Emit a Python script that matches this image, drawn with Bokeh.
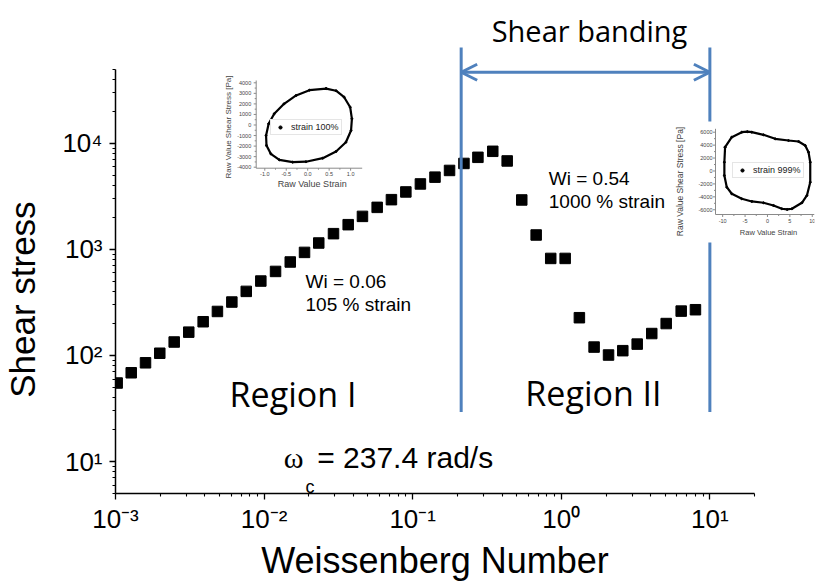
import math
from bokeh.plotting import figure
from bokeh.models import (Range1d, FixedTicker, CustomJSTickFormatter, LinearScale,
                          Label, Arrow, OpenHead, Legend, LegendItem)
from bokeh.core.properties import value
from bokeh.embed import file_html
from bokeh.resources import INLINE

# ---------------- data ----------------
wi = [0.001026, 0.001276, 0.001592, 0.001986, 0.002483, 0.003112, 0.003890, 0.004853,
      0.006067, 0.007586, 0.009506, 0.01194, 0.01500, 0.01871, 0.02333, 0.02931,
      0.03681, 0.04592, 0.05768, 0.07194, 0.08995, 0.1127, 0.1413, 0.1770, 0.2213,
      0.2748, 0.3459, 0.4325, 0.5420, 0.6776, 0.8492, 1.062, 1.324, 1.663, 2.080,
      2.594, 3.243, 4.064, 5.082, 6.412, 7.998]
shear_stress = [55, 68.7, 85.3, 105, 134, 166, 208, 260, 319, 402, 503, 620, 761, 937,
                1149, 1407, 1710, 2048, 2490, 2944, 3480, 4140, 4800, 5550, 6460, 7380,
                8410, 6820, 2925, 1367, 822, 822, 227, 120, 101, 111, 128, 161, 200, 262, 270]
x_major_ticks = [1e-3, 1e-2, 1e-1, 1e0, 1e1]
y_major_ticks = [1e1, 1e2, 1e3, 1e4]

# inset 1: strain 100 %
strain_100 = [0.43, 0.04, -0.27, -0.55, -0.78, -0.91, -0.97, -0.96, -0.86, -0.66, -0.35,
              -0.04, 0.35, 0.66, 0.89, 1.01, 1.03, 0.99, 0.85, 0.66, 0.43]
stress_100 = [3450, 3300, 2800, 2010, 1060, 114, -995, -1943, -2730, -3300, -3520,
              -3480, -3147, -2512, -1630, -521, 588, 1687, 2635, 3250, 3450]
in1_x_ticks = [-1.0, -0.5, 0.0, 0.5, 1.0]
in1_x_labels = ["-1.0", "-0.5", "0.0", "0.5", "1.0"]
in1_x_minor = [-0.75, -0.25, 0.25, 0.75]
in1_y_ticks = [-4000, -3000, -2000, -1000, 0, 1000, 2000, 3000, 4000]
in1_y_labels = ["-4000", "-3000", "-2000", "-1000", "0", "1000", "2000", "3000", "4000"]
in1_y_minor = [-3500, -2500, -1500, -500, 500, 1500, 2500, 3500]

# inset 2: strain 999 %
strain_999 = [-9.46, -7.97, -5.73, -4.5, -3.49, -0.89, 1.72, 4.70, 6.94, 8.43, 9.17, 9.55,
              9.55, 8.81, 7.69, 5.46, 4.4, 3.22, 1.34, -0.89, -3.49, -5.73, -7.97, -9.08,
              -9.62, -9.62, -9.46]
stress_999 = [3680, 5225, 6000, 6080, 6000, 5595, 4977, 4714, 4560, 3941, 2906, 1360,
              -1731, -3787, -4915, -5842, -5950, -5842, -5332, -4915, -4714, -4297, -3524,
              -2504, -696, 1360, 3680]
in2_x_ticks = [-10, -5, 0, 5, 10]
in2_x_labels = ["-10", "-5", "0", "5", "10"]
in2_x_minor = [-7.5, -2.5, 2.5, 7.5]
in2_y_ticks = [-6000, -4000, -2000, 0, 2000, 4000, 6000]
in2_y_labels = ["-6000", "-4000", "-2000", "0", "2000", "4000", "6000"]
in2_y_minor = [-5000, -3000, -1000, 1000, 3000, 5000]

BLUE = "#4F81BD"
SANS = "Liberation Sans"
AXG = "#8a8a8a"
TXG = "#444444"
NB = "\u00a0"

# main frame in canvas pixels (layout); the frame reaches the top so that the
# texts above the axes are drawn inside it, the axes are limited with bounds
W, H = 816, 584
F_L, F_R, F_T, F_B = 115, 814, 8, 493

# ---------------- main figure ----------------
p = figure(width=W, height=H, x_axis_type="log", y_axis_type="log",
           x_range=Range1d(1e-3, 50.6), y_range=Range1d(5, 1.866e5),
           output_backend="svg", toolbar_location=None,
           min_border_left=F_L, min_border_right=W - F_R, min_border_top=F_T,
           min_border_bottom=H - F_B)
p.outline_line_color = None
p.grid.visible = False
p.background_fill_color = "white"
p.border_fill_color = "white"

minor_x = [m * 10.0 ** e for e in range(-3, 2) for m in range(2, 10) if m * 10.0 ** e <= 20]
minor_y = [m * 10.0 ** e for e in range(0, 5) for m in range(2, 10) if m * 10.0 ** e <= 5e4]
p.xaxis.ticker = FixedTicker(ticks=x_major_ticks, minor_ticks=minor_x)
p.yaxis.ticker = FixedTicker(ticks=y_major_ticks, minor_ticks=minor_y)
p.xaxis.bounds = (1e-3, 20)
p.yaxis.bounds = (5, 5e4)

fmt = CustomJSTickFormatter(code="""
const sup = {"-": "\u207b", "0": "\u2070", "1": "\u00b9", "2": "\u00b2", "3": "\u00b3",
             "4": "\u2074", "5": "\u2075", "6": "\u2076", "7": "\u2077", "8": "\u2078", "9": "\u2079"};
const e = Math.round(Math.log10(tick));
return "10" + String(e).split("").map(c => sup[c]).join("");
""")

for ax in (p.xaxis[0], p.yaxis[0]):
    ax.formatter = fmt
    ax.major_label_text_font = SANS
    ax.major_label_text_font_size = "26px"
    ax.major_label_text_color = "black"
    ax.axis_label_text_font = SANS
    ax.axis_label_text_font_style = "normal"
    ax.axis_label_text_color = "black"
    ax.axis_line_width = 1.5
    ax.axis_line_color = "black"
    ax.major_tick_line_color = "black"
    ax.minor_tick_line_color = "black"
    ax.major_tick_line_width = 1.3
    ax.minor_tick_line_width = 1.1
    ax.major_tick_in = 0
    ax.major_tick_out = 6
    ax.minor_tick_in = 0
    ax.minor_tick_out = 3
p.xaxis.major_label_standoff = 4
p.yaxis.major_label_standoff = 7
# axis titles are centred on the frame; trailing no-break spaces move them
# to where the reference has them
p.xaxis.axis_label = "Weissenberg Number" + NB * 6
p.xaxis.axis_label_text_font_size = "36px"
p.xaxis.axis_label_standoff = 3
p.yaxis.axis_label = "Shear stress" + NB * 10
p.yaxis.axis_label_text_font_size = "35px"
p.yaxis.axis_label_standoff = 17

p.scatter(wi, shear_stress, marker="square", size=10.5, fill_color="black", line_color="black")

# shear banding region markers
p.add_layout(Arrow(end=None, x_start=0.212, y_start=29.4, x_end=0.212, y_end=80000,
                   line_color=BLUE, line_width=3))
p.add_layout(Arrow(end=None, x_start=10, y_start=16020, x_end=10, y_end=80000,
                   line_color=BLUE, line_width=3))
p.add_layout(Arrow(end=None, x_start=10, y_start=29.4, x_end=10, y_end=1164,
                   line_color=BLUE, line_width=3))
p.add_layout(Arrow(start=OpenHead(size=16, line_color=BLUE, line_width=3),
                   end=OpenHead(size=16, line_color=BLUE, line_width=3),
                   x_start=0.212, y_start=46800, x_end=10, y_end=46800,
                   line_color=BLUE, line_width=3))


def lab(text, x, y, font, size, align="left"):
    p.add_layout(Label(x=x, y=y, text=text, text_font=font, text_font_size=size,
                       text_align=align, text_baseline="middle", text_color="black"))


lab("Shear banding", 1.549, 116400, "Open Sans", "29px", "center")
lab("Region I", 0.01565, 43.7, "Open Sans", "34px", "center")
lab("Region II", 1.647, 44.7, "Open Sans", "34px", "center")
lab("Wi = 0.06", 0.0190, 499, SANS, "19px")
lab("105 % strain", 0.0190, 300, SANS, "19px")
lab("Wi = 0.54", 0.824, 4710, SANS, "19px")
lab("1000 % strain", 0.824, 2838, SANS, "19px")
lab("\u03c9", 0.01357, 10.9, "Liberation Serif", "30px")
lab("c", 0.0190, 5.79, SANS, "18px")
lab("= 237.4 rad/s", 0.02277, 10.9, SANS, "30px")

# ---------------- insets (linear sub-coordinates inside the frame) ----------------
ex_x, ex_y, sc_x, sc_y = {}, {}, {}, {}


def draw_inset(name, xs, ys, xd, yd, box, xt, xl, xm, yt, yl, ym, tick_fs,
               ylab_gap, xlab_gap, xtitle, ytitle, legend_text, legend_loc):
    (x0, x1), (y0, y1) = xd, yd
    bl, bt, br, bb = box
    sx = (x1 - x0) / (br - bl)
    sy = (y1 - y0) / (bb - bt)
    ex_x[name] = Range1d(x0 - (bl - F_L) * sx, x1 + (F_R - br) * sx)
    ex_y[name] = Range1d(y0 - (F_B - bb) * sy, y1 + (bt - F_T) * sy)
    sc_x[name] = LinearScale()
    sc_y[name] = LinearScale()
    kw = dict(x_range_name=name, y_range_name=name)
    # axis lines
    p.segment(x0=[x0, x0], y0=[y0, y0], x1=[x0, x1], y1=[y1, y0], line_color=AXG,
              line_width=1, **kw)
    # ticks
    p.segment(x0=xt, y0=[y0] * len(xt), x1=xt, y1=[y0 - 2.5 * sy] * len(xt),
              line_color=AXG, line_width=1, **kw)
    p.segment(x0=xm, y0=[y0] * len(xm), x1=xm, y1=[y0 - 1.5 * sy] * len(xm),
              line_color=AXG, line_width=1, **kw)
    p.segment(x0=[x0] * len(yt), y0=yt, x1=[x0 - 2.5 * sx] * len(yt), y1=yt,
              line_color=AXG, line_width=1, **kw)
    p.segment(x0=[x0] * len(ym), y0=ym, x1=[x0 - 1.5 * sx] * len(ym), y1=ym,
              line_color=AXG, line_width=1, **kw)
    # tick labels
    p.text(x=xt, y=[y0 - xlab_gap * sy] * len(xt), text=xl, text_align="center",
           text_baseline="top", text_font=value(SANS), text_font_size=value(tick_fs),
           text_color=TXG, **kw)
    p.text(x=[x0 - ylab_gap * sx] * len(yt), y=yt, text=yl, text_align="right",
           text_baseline="middle", text_font=value(SANS), text_font_size=value(tick_fs),
           text_color=TXG, **kw)
    # titles: (x px, y px, size)
    tx, ty, tfs = xtitle
    p.text(x=[x0 + (tx - bl) * sx], y=[y1 - (ty - bt) * sy], text=["Raw Value Strain"],
           text_align="center", text_baseline="middle", text_font=value(SANS),
           text_font_size=value(tfs), text_color=TXG, **kw)
    tx, ty, tfs = ytitle
    p.text(x=[x0 + (tx - bl) * sx], y=[y1 - (ty - bt) * sy],
           text=["Raw Value Shear Stress [Pa]"], angle=math.pi / 2,
           text_align="center", text_baseline="middle", text_font=value(SANS),
           text_font_size=value(tfs), text_color=TXG, **kw)
    # the loop
    p.line(xs, ys, line_color="black", line_width=2.2, **kw)
    r = p.scatter(xs, ys, size=2, color="black", **kw)
    leg = Legend(items=[LegendItem(label=legend_text, renderers=[r])], location=legend_loc,
                 label_text_font=SANS, label_text_font_size="9px", label_text_color="#222222",
                 glyph_width=14, glyph_height=8, label_height=8, label_standoff=4,
                 padding=2, spacing=0, margin=0, border_line_color="#cccccc",
                 border_line_width=1, background_fill_color="white", background_fill_alpha=1)
    p.add_layout(leg)


draw_inset("in1", strain_100, stress_100, (-1.2, 1.27), (-4095, 4218),
           (255.7, 80, 361.7, 167.7),
           in1_x_ticks, in1_x_labels, in1_x_minor, in1_y_ticks, in1_y_labels, in1_y_minor,
           "5.5px", 5, 3.5, (311.7, 183.3, "9px"), (228.3, 126.5, "8px"),
           "strain 100%", (155, 358))
draw_inset("in2", strain_999, stress_999, (-11.6, 10.5), (-6730, 6525),
           (715, 128.3, 814, 214),
           in2_x_ticks, in2_x_labels, in2_x_minor, in2_y_ticks, in2_y_labels, in2_y_minor,
           "5.5px", 3, 4, (768, 232.3, "7.5px"), (679, 181, "8.5px"),
           "strain 999%", (617, 315))

p.extra_x_ranges = ex_x
p.extra_y_ranges = ex_y
p.extra_x_scales = sc_x
p.extra_y_scales = sc_y

open("out.html", "w").write(file_html(p, INLINE))
